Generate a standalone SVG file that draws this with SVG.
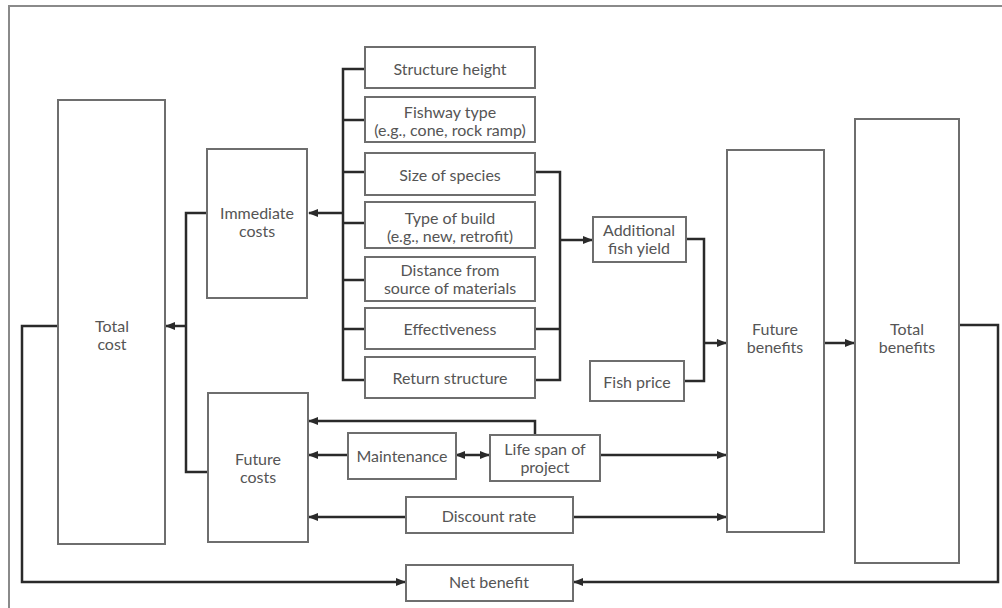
<svg xmlns="http://www.w3.org/2000/svg" width="1002" height="608" viewBox="0 0 1002 608">
<defs>
<marker id="ah" viewBox="0 0 10 10" refX="9" refY="5" markerWidth="4" markerHeight="4" orient="auto-start-reverse" markerUnits="strokeWidth">
<path d="M0,1 L10,5 L0,9 z" fill="#2a2a2a"/>
</marker>
<style>
.box{fill:#fff;stroke:#6e6e6e;stroke-width:2}
.t{font-family:Lato,"Liberation Sans",sans-serif;font-size:16px;fill:#555;text-anchor:middle}
.c{fill:none;stroke:#2a2a2a;stroke-width:2.5}
.a{marker-end:url(#ah)}
.frame{fill:none;stroke:#8a8a8a;stroke-width:2}
</style>
</defs>
<rect x="9" y="6" width="1010" height="620" fill="#fff" class="frame"/>
<g id="connectors">
<path class="c" d="M365,69 H343 V380 H365 M343,120 H365 M343,172 H365 M343,223 H365 M343,280 H365 M343,329 H365"/>
<path class="c a" d="M343,213 H309"/>
<path class="c" d="M535,172 H560 V380 H535 M535,329 H560"/>
<path class="c a" d="M560,240 H592"/>
<path class="c" d="M686,239 H704 V381 H684"/>
<path class="c a" d="M704,343 H726"/>
<path class="c a" d="M824,343 H854"/>
<path class="c" d="M207,213 H186 V472 H208"/>
<path class="c a" d="M186,326 H166"/>
<path class="c a" d="M58,326 H22 V582 H405"/>
<path class="c a" d="M959,325 H998 V582 H574"/>
<path class="c a" d="M535,435 V421 H309"/>
<path class="c a" d="M348,455 H309"/>
<path class="c a" d="M456,455 H489" style="marker-start:url(#ah)"/>
<path class="c a" d="M600,455 H726"/>
<path class="c a" d="M406,517 H309"/>
<path class="c a" d="M573,517 H726"/>
</g>
<g id="total_cost"><rect class="box" x="58" y="100" width="107" height="444"/><text class="t" x="112" y="332">Total</text><text class="t" x="112" y="350">cost</text></g>
<g id="immediate_costs"><rect class="box" x="207" y="149" width="100" height="149"/><text class="t" x="257" y="219">Immediate</text><text class="t" x="257" y="237">costs</text></g>
<g id="future_costs"><rect class="box" x="208" y="393" width="100" height="149"/><text class="t" x="258" y="465">Future</text><text class="t" x="258" y="483">costs</text></g>
<g id="structure_height"><rect class="box" x="365" y="47" width="170" height="41"/><text class="t" x="450" y="75">Structure height</text></g>
<g id="fishway_type"><rect class="box" x="365" y="97" width="170" height="45"/><text class="t" x="450" y="118">Fishway type</text><text class="t" x="450" y="136">(e.g., cone, rock ramp)</text></g>
<g id="size_of_species"><rect class="box" x="365" y="153" width="170" height="42"/><text class="t" x="450" y="181">Size of species</text></g>
<g id="type_of_build"><rect class="box" x="365" y="202" width="170" height="46"/><text class="t" x="450" y="224">Type of build</text><text class="t" x="450" y="242">(e.g., new, retrofit)</text></g>
<g id="distance"><rect class="box" x="365" y="257" width="170" height="44"/><text class="t" x="450" y="276">Distance from</text><text class="t" x="450" y="294">source of materials</text></g>
<g id="effectiveness"><rect class="box" x="365" y="308" width="170" height="41"/><text class="t" x="450" y="335">Effectiveness</text></g>
<g id="return_structure"><rect class="box" x="365" y="357" width="170" height="41"/><text class="t" x="450" y="384">Return structure</text></g>
<g id="additional_fish_yield"><rect class="box" x="593" y="217" width="93" height="45"/><text class="t" x="639" y="236">Additional</text><text class="t" x="639" y="254">fish yield</text></g>
<g id="fish_price"><rect class="box" x="590" y="361" width="94" height="40"/><text class="t" x="637" y="388">Fish price</text></g>
<g id="future_benefits"><rect class="box" x="727" y="150" width="97" height="382"/><text class="t" x="775" y="335">Future</text><text class="t" x="775" y="353">benefits</text></g>
<g id="total_benefits"><rect class="box" x="855" y="119" width="104" height="444"/><text class="t" x="907" y="335">Total</text><text class="t" x="907" y="353">benefits</text></g>
<g id="maintenance"><rect class="box" x="348" y="433" width="108" height="46"/><text class="t" x="402" y="462">Maintenance</text></g>
<g id="life_span"><rect class="box" x="490" y="435" width="110" height="46"/><text class="t" x="545" y="455">Life span of</text><text class="t" x="545" y="473">project</text></g>
<g id="discount_rate"><rect class="box" x="406" y="497" width="167" height="36"/><text class="t" x="489" y="522">Discount rate</text></g>
<g id="net_benefit"><rect class="box" x="406" y="565" width="167" height="36"/><text class="t" x="489" y="588">Net benefit</text></g>
</svg>
